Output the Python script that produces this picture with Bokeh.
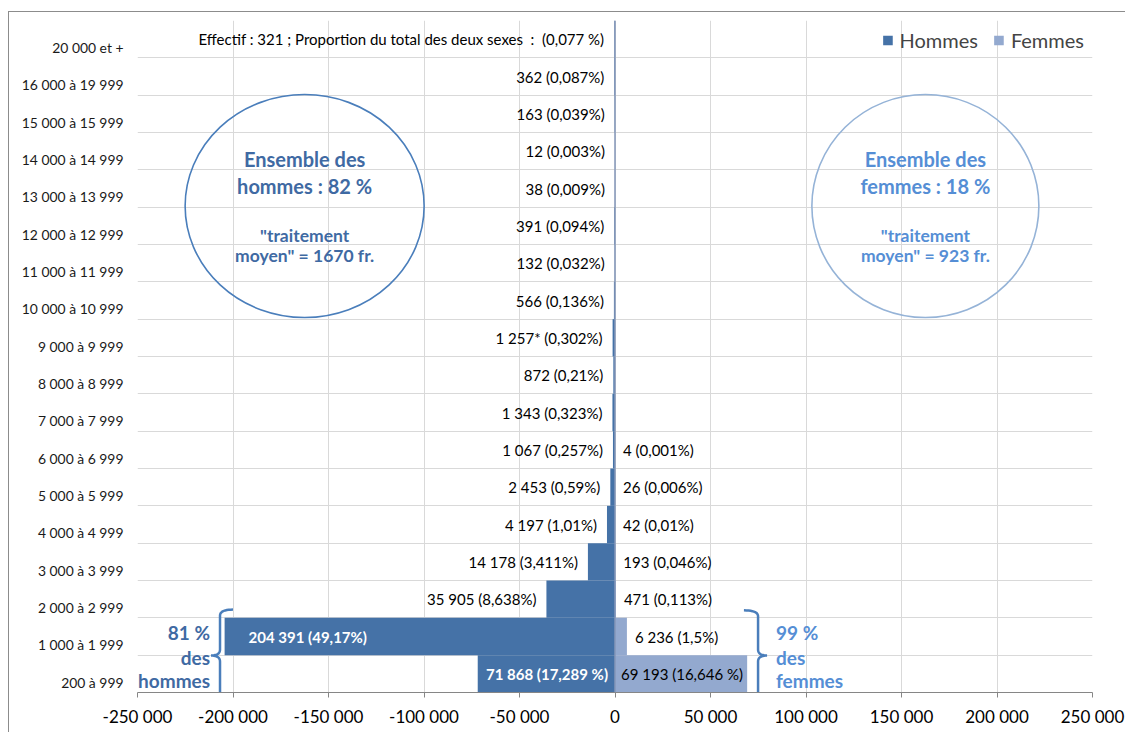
import numpy as np
from bokeh.plotting import figure
from bokeh.models import ColumnDataSource, FixedTicker, Legend, LegendItem, Span, Range1d
from bokeh.core.properties import value
from bokeh.embed import file_html
from bokeh.resources import INLINE

# ---------------- data (top row first) ----------------
categories = ["20 000 et +", "16 000 à 19 999", "15 000 à 15 999", "14 000 à 14 999",
              "13 000 à 13 999", "12 000 à 12 999", "11 000 à 11 999", "10 000 à 10 999",
              "9 000 à 9 999", "8 000 à 8 999", "7 000 à 7 999", "6 000 à 6 999",
              "5 000 à 5 999", "4 000 à 4 999", "3 000 à 3 999", "2 000 à 2 999",
              "1 000 à 1 999", "200 à 999"]
hommes = [321, 362, 163, 12, 38, 391, 132, 566, 1257, 872, 1343, 1067,
          2453, 4197, 14178, 35905, 204391, 71868]
femmes = [0, 0, 0, 0, 0, 0, 0, 0, 0, 0, 0, 4, 26, 42, 193, 471, 6236, 69193]
hommes_labels = ["Effectif : 321 ; Proportion du total des deux sexes\u00a0 :\u00a0 (0,077 %)",
                 "362 (0,087%)", "163 (0,039%)", "12 (0,003%)", "38 (0,009%)",
                 "391 (0,094%)", "132 (0,032%)", "566 (0,136%)", "1 257* (0,302%)",
                 "872 (0,21%)", "1 343 (0,323%)", "1 067 (0,257%)", "2 453 (0,59%)",
                 "4 197 (1,01%)", "14 178 (3,411%)", "35 905 (8,638%)",
                 "204 391 (49,17%)", "71 868 (17,289 %)"]
femmes_labels = ["", "", "", "", "", "", "", "", "", "", "", "4 (0,001%)", "26 (0,006%)",
                 "42 (0,01%)", "193 (0,046%)", "471 (0,113%)", "6 236 (1,5%)",
                 "69 193 (16,646 %)"]
x_ticks = [-250000, -200000, -150000, -100000, -50000, 0, 50000, 100000, 150000, 200000, 250000]
x_tick_labels = ["-250 000", "-200 000", "-150 000", "-100 000", "-50 000", "0",
                 "50 000", "100 000", "150 000", "200 000", "250 000"]
circle_hommes_lines = ["Ensemble des", "hommes : 82 %", "\"traitement", "moyen\" = 1670 fr."]
circle_femmes_lines = ["Ensemble des", "femmes : 18 %", "\"traitement", "moyen\" = 923 fr."]
brace_hommes_lines = ["81 %", "des", "hommes"]
brace_femmes_lines = ["99 %", "des", "femmes"]

# ---------------- styles ----------------
FONT = "Lato"
C_H = "#4572a7"
C_F = "#93a9cf"
C_GRID = "#d9d9d9"
C_AX = "#868686"
C_CIRC_H = "#4a7ebb"
C_CIRC_F = "#95b3d7"
C_TXT_H = "#3f6aa3"
C_TXT_F = "#558ed5"

n = len(categories)
ypos = [n - 1 - i + 0.5 for i in range(n)]
X0, X1 = x_ticks[0], x_ticks[-1]

FW, FH = 955, 672
px_x = (X1 - X0) / FW      # data units per pixel horizontally
px_y = n / FH              # data units per pixel vertically

p = figure(frame_width=FW, frame_height=FH,
           min_border_left=128, min_border_right=33, min_border_top=8, min_border_bottom=40,
           x_range=Range1d(X0, X1), y_range=Range1d(0, n),
           output_backend="svg", toolbar_location=None)
p.styles = {"margin-top": "11px", "margin-left": "8px",
            "border-top": "1px solid #8c8c8c", "border-left": "1px solid #8c8c8c"}
p.outline_line_color = None
p.background_fill_color = "white"

# grids
p.xgrid.ticker = FixedTicker(ticks=x_ticks)
p.ygrid.ticker = FixedTicker(ticks=list(range(0, n + 1)))
p.xgrid.grid_line_color = C_GRID
p.ygrid.grid_line_color = C_GRID

# x axis
p.xaxis.ticker = FixedTicker(ticks=x_ticks)
p.xaxis.major_label_overrides = {t: l for t, l in zip(x_ticks, x_tick_labels)}
p.xaxis.axis_line_color = C_AX
p.xaxis.major_tick_line_color = C_AX
p.xaxis.major_tick_out = 5
p.xaxis.major_tick_in = 0
p.xaxis.minor_tick_line_color = None
p.xaxis.major_label_text_font = FONT
p.xaxis.major_label_text_font_size = "17px"
p.xaxis.major_label_text_color = "#000000"
p.xaxis.major_label_standoff = 8

# y axis (labels sit a little below the row centre, as in the original)
y_label_pos = [round(y - 0.22, 2) for y in ypos]
p.yaxis.ticker = FixedTicker(ticks=y_label_pos)
p.yaxis.major_label_overrides = {t: c for t, c in zip(y_label_pos, categories)}
p.yaxis.axis_line_color = None
p.yaxis.major_tick_line_color = None
p.yaxis.minor_tick_line_color = None
p.yaxis.major_label_text_font = FONT
p.yaxis.major_label_text_font_size = "13.9px"
p.yaxis.major_label_text_color = "#1a1a1a"
p.yaxis.major_label_standoff = 8

# bars
src = ColumnDataSource(dict(y=ypos, h=[-v for v in hommes], f=femmes))
rh = p.hbar(y="y", left=0, right="h", height=1.0, source=src, fill_color=C_H, line_color=None)
rf = p.hbar(y="y", left=0, right="f", height=1.0, source=src, fill_color=C_F, line_color=None)

p.add_layout(Span(location=0, dimension="height", line_color="#8497b8", line_width=1.5))

# data labels
out_h = dict(x=[], y=[], t=[])
in_h_left = dict(x=[], y=[], t=[])
in_h_base = dict(x=[], y=[], t=[])
for v, y, t in zip(hommes, ypos, hommes_labels):
    if v > 100000:
        in_h_left["x"].append(-v); in_h_left["y"].append(y); in_h_left["t"].append(t)
    elif v > 50000:
        in_h_base["x"].append(0); in_h_base["y"].append(y); in_h_base["t"].append(t)
    else:
        out_h["x"].append(-v); out_h["y"].append(y); out_h["t"].append(t)

out_f = dict(x=[], y=[], t=[])
in_f = dict(x=[], y=[], t=[])
for v, y, t in zip(femmes, ypos, femmes_labels):
    if not t:
        continue
    if v > 50000:
        in_f["x"].append(0); in_f["y"].append(y); in_f["t"].append(t)
    else:
        out_f["x"].append(v); out_f["y"].append(y); out_f["t"].append(t)

LBL = "15px"
p.text(x="x", y="y", text="t", source=ColumnDataSource(out_h), text_align="right",
       text_baseline="middle", x_offset=-10, text_font=value(FONT), text_font_size=LBL,
       text_color="#000000")
p.text(x="x", y="y", text="t", source=ColumnDataSource(in_h_left), text_align="left",
       text_baseline="middle", x_offset=24, text_font=value(FONT), text_font_size=LBL,
       text_font_style="bold", text_color="white")
p.text(x="x", y="y", text="t", source=ColumnDataSource(in_h_base), text_align="right",
       text_baseline="middle", x_offset=-7, text_font=value(FONT), text_font_size=LBL,
       text_font_style="bold", text_color="white")
p.text(x="x", y="y", text="t", source=ColumnDataSource(out_f), text_align="left",
       text_baseline="middle", x_offset=8, text_font=value(FONT), text_font_size=LBL,
       text_color="#000000")
p.text(x="x", y="y", text="t", source=ColumnDataSource(in_f), text_align="left",
       text_baseline="middle", x_offset=6, text_font=value(FONT), text_font_size=LBL,
       text_color="#000000")

# circles with summary text
cy = 13.03
cx_h, cx_f = -162500, 162500
p.ellipse(x=[cx_h], y=[cy], width=[239 * px_x], height=[223 * px_y], fill_color=None,
          line_color=C_CIRC_H, line_width=1.6)
p.ellipse(x=[cx_f], y=[cy], width=[227 * px_x], height=[223 * px_y], fill_color=None,
          line_color=C_CIRC_F, line_width=1.6)
line_dy = [14.28 - cy, 13.58 - cy, 12.24 - cy, 11.71 - cy]
sizes = ["20px", "20px", "17.5px", "17.5px"]
for lines, cx, col in [(circle_hommes_lines, cx_h, C_TXT_H), (circle_femmes_lines, cx_f, C_TXT_F)]:
    for t, d, s in zip(lines, line_dy, sizes):
        p.text(x=[cx], y=[cy + d], text=[t], text_align="center", text_baseline="middle",
               text_font=value(FONT), text_font_size=s, text_font_style="bold", text_color=col)

# braces
def brace(x_end, x_spine, x_tip, y_top, y_mid, y_bot, r_y):
    def qb(p0, c, p1, k=12):
        tt = np.linspace(0, 1, k)
        xs = (1 - tt) ** 2 * p0[0] + 2 * (1 - tt) * tt * c[0] + tt ** 2 * p1[0]
        ys = (1 - tt) ** 2 * p0[1] + 2 * (1 - tt) * tt * c[1] + tt ** 2 * p1[1]
        return list(xs), list(ys)
    X, Y = [], []
    for seg in [qb((x_end, y_top), (x_spine, y_top), (x_spine, y_top - r_y)),
                qb((x_spine, y_mid + r_y), (x_spine, y_mid), (x_tip, y_mid)),
                qb((x_tip, y_mid), (x_spine, y_mid), (x_spine, y_mid - r_y)),
                qb((x_spine, y_bot + r_y), (x_spine, y_bot), (x_end, y_bot))]:
        X += seg[0]; Y += seg[1]
    return X, Y

r_y = 6 * px_y
bx, by = brace(-200000, -206800, -211500, 2.22, 0.99, -0.2, r_y)
p.line(bx, by, line_color=C_CIRC_H, line_width=2.5)
bx, by = brace(67500, 74900, 79600, 2.2, 0.99, -0.2, r_y)
p.line(bx, by, line_color=C_CIRC_H, line_width=2.5)

brace_y = [1.62, 0.95, 0.33]
p.text(x=[-211500] * 3, y=brace_y, text=brace_hommes_lines, text_align="right",
       text_baseline="middle", x_offset=-1, text_font=value(FONT), text_font_size="19px",
       text_font_style="bold", text_color=C_TXT_H)
p.text(x=[79600] * 3, y=brace_y, text=brace_femmes_lines, text_align="left",
       text_baseline="middle", x_offset=9, text_font=value(FONT), text_font_size="19px",
       text_font_style="bold", text_color=C_TXT_F)

# legend
legend = Legend(items=[LegendItem(label="Hommes", renderers=[rh]),
                       LegendItem(label="Femmes", renderers=[rf])],
                orientation="horizontal", location="top_right")
legend.border_line_color = None
legend.background_fill_alpha = 0
legend.label_text_font = FONT
legend.label_text_font_size = "20px"
legend.glyph_width = 12
legend.glyph_height = 12
legend.label_standoff = 6
legend.spacing = 15
legend.padding = 0
legend.margin = 8
legend.label_height = 20
p.add_layout(legend)

open("out.html", "w").write(file_html(p, INLINE))
